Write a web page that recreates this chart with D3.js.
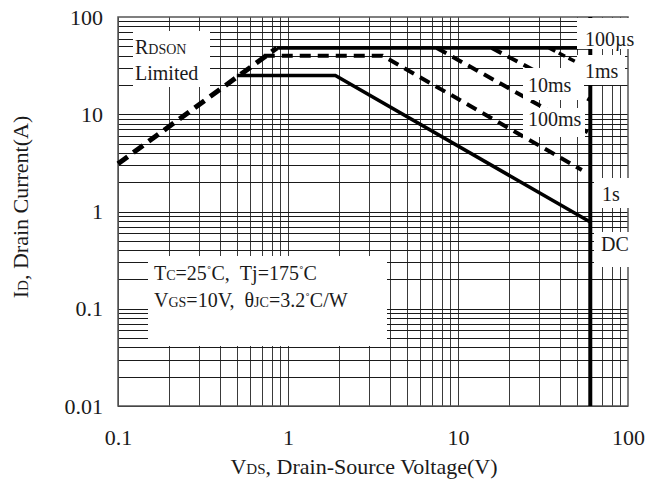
<!DOCTYPE html>
<html><head><meta charset="utf-8">
<script src="https://cdn.jsdelivr.net/npm/d3@7"></script>
<style>
html,body{margin:0;padding:0;background:#fff;}
svg text{font-family:"Liberation Serif","Times New Roman",serif;fill:#1a1a1a;}
</style></head>
<body>
<svg id="c" width="646" height="482"></svg>
<script>
// ---- data ----
const xTicks = [0.1, 1, 10, 100];
const yTicks = [0.01, 0.1, 1, 10, 100];
const xTickLabels = ["0.1", "1", "10", "100"];
const yTickLabels = ["0.01", "0.1", "1", "10", "100"];

// RDS(on) limit line
const rdsonV = [0.1, 0.86];
const rdsonI = [3.1, 48];
// current limit (solid)
const limitV = [0.86, 60];
const limitI = [48, 48];
// 100 us
const us100V = [34.3, 60];
const us100I = [48, 29];
// 1 ms
const ms1V = [15.8, 60];
const ms1I = [48, 14];
// 10 ms
const ms10V = [7.5, 60];
const ms10I = [48, 6.3];
// 100 ms
const ms100V = [0.72, 3.6, 53.5];
const ms100I = [40, 40, 2.67];
// 1 s
const s1V = [0.5, 1.9, 60];
const s1I = [25, 25, 0.78];
// DC (breakdown limit)
const dcV = [60, 60];
const dcI = [0.01, 100];

// ---- layout ----
const svg = d3.select("#c");
const L = 118, R = 628, T = 17, B = 406;
const x = d3.scaleLog().domain([0.1, 100]).range([L, R]);
const y = d3.scaleLog().domain([0.01, 100]).range([B, T]);

const zip = (vs, is) => vs.map((v, i) => [v, is[i]]);
const line = d3.line().x(d => x(d[0])).y(d => y(d[1]));

// grid
const gridX = [], gridY = [];
for (let e = -1; e < 2; e++) for (let m = 1; m < 10; m++) gridX.push(m * Math.pow(10, e));
for (let e = -2; e < 2; e++) for (let m = 1; m < 10; m++) gridY.push(m * Math.pow(10, e));
const g = svg.append("g").attr("shape-rendering", "crispEdges");
g.selectAll("line.v").data(gridX).join("line")
  .attr("x1", d => Math.round(x(d)) + 0.5).attr("x2", d => Math.round(x(d)) + 0.5)
  .attr("y1", T).attr("y2", B).attr("stroke", "#3a3a3a").attr("stroke-width", 1);
g.selectAll("line.h").data(gridY).join("line")
  .attr("y1", d => Math.round(y(d)) + 0.5).attr("y2", d => Math.round(y(d)) + 0.5)
  .attr("x1", L).attr("x2", R).attr("stroke", "#1a1a1a").attr("stroke-width", 1);
svg.append("rect").attr("x", L).attr("y", T).attr("width", R - L).attr("height", B - T)
  .attr("fill", "none").attr("stroke", "#555").attr("stroke-width", 1.5);

// curves
const curves = svg.append("g").attr("fill", "none").attr("stroke", "#000").attr("stroke-linecap", "butt");
curves.append("path").attr("d", line(zip(rdsonV, rdsonI))).attr("stroke-width", 5).attr("stroke-dasharray", "12,7");
curves.append("path").attr("d", line(zip(limitV, limitI))).attr("stroke-width", 3.4);
curves.append("path").attr("d", line(zip(us100V, us100I))).attr("stroke-width", 3.5).attr("stroke-dasharray", "7,4");
curves.append("path").attr("d", line(zip(ms1V, ms1I))).attr("stroke-width", 4).attr("stroke-dasharray", "11,7");
curves.append("path").attr("d", line(zip(ms10V, ms10I))).attr("stroke-width", 4).attr("stroke-dasharray", "11,7");
curves.append("path").attr("d", line(zip(ms100V, ms100I))).attr("stroke-width", 4).attr("stroke-dasharray", "11,7");
curves.append("path").attr("d", line(zip(s1V, s1I))).attr("stroke-width", 3.5);
curves.append("path").attr("d", line(zip(dcV, dcI))).attr("stroke-width", 4);

// label boxes (white, no border)
const boxes = [
  [133, 31, 77, 56], [148, 256, 239, 90],
  [577, 18, 57, 31], [577, 55, 48, 30],
  [523, 68, 61, 32], [523, 108, 62, 29],
  [594, 178, 38, 30], [594, 232, 38, 35]
];
svg.append("g").selectAll("rect").data(boxes).join("rect")
  .attr("x", d => d[0]).attr("y", d => d[1]).attr("width", d => d[2]).attr("height", d => d[3])
  .attr("fill", "#fff");

// helper for rich text
function rich(xp, yp, parts, size) {
  const t = svg.append("text").attr("x", xp).attr("y", yp).attr("font-size", size)
    .attr("xml:space", "preserve");
  parts.forEach(p => {
    const s = t.append("tspan").text(p[0]);
    if (p[1]) s.attr("font-size", p[1]);
    if (p[2]) s.attr("dy", p[2]);
  });
  return t;
}
// annotations
rich(135, 54, [["R"], ["DSON", 14]], 20);
rich(135, 80, [["Limited"]], 20);
rich(154, 280, [["T"], ["C", 14], ["=25"], ["˚", 14, -3], ["C,\u00a0\u00a0Tj=175", null, 3], ["˚", 14, -3], ["C", null, 3]], 20);
rich(154, 307, [["V"], ["GS", 14], ["=10V,\u00a0\u00a0θ"], ["JC", 14], ["=3.2"], ["˚", 14, -3], ["C/W", null, 3]], 20);
rich(585, 46, [["100µs"]], 20);
rich(585, 78, [["1ms"]], 20);
rich(528, 92, [["10ms"]], 20);
rich(528, 126, [["100ms"]], 20);
rich(602, 201, [["1s"]], 20);
rich(601, 251, [["DC"]], 20);

// axes
const ax = svg.append("g").attr("transform", `translate(0,${B})`)
  .call(d3.axisBottom(x).tickValues(xTicks).tickSize(0).tickPadding(23)
    .tickFormat((d, i) => xTickLabels[i]));
const ay = svg.append("g").attr("transform", `translate(${L},0)`)
  .call(d3.axisLeft(y).tickValues(yTicks).tickSize(0).tickPadding(15)
    .tickFormat((d, i) => yTickLabels[i]));
[ax, ay].forEach(a => {
  a.select(".domain").remove();
  a.selectAll("text").attr("font-size", 22).attr("font-family", "Liberation Serif, serif").attr("fill", "#1a1a1a");
});

// axis titles
rich(364, 474, [["V"], ["DS", 15], [", Drain-Source Voltage(V)"]], 22).attr("text-anchor", "middle");
rich(0, 0, [["I"], ["D", 15], [", Drain Current(A)"]], 22)
  .attr("text-anchor", "middle").attr("transform", "translate(28,207) rotate(-90)");
</script>
</body></html>
